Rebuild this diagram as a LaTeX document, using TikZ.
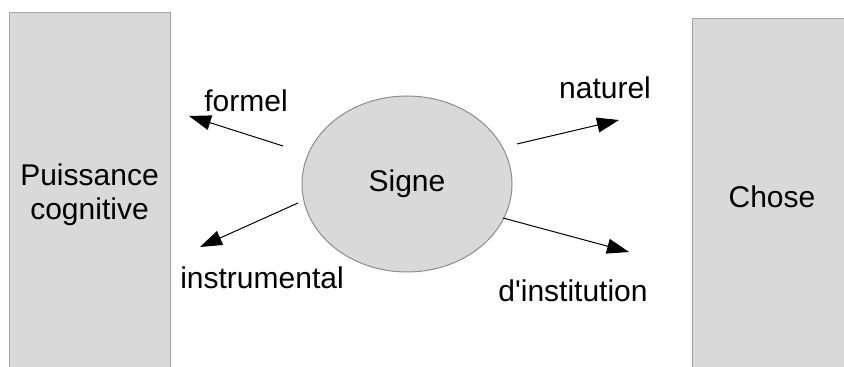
\documentclass[tikz,border=0pt]{standalone}
\usepackage{fontspec}
\setmainfont{Liberation Sans}
\usetikzlibrary{arrows.meta,shapes.geometric}
\tikzset{>={Triangle[length=11pt,width=7.5pt]}}
\tikzset{
    side/.style={rectangle,draw=gray!70,fill=gray!30,line width=0.5pt,align=center,font=\fontsize{15}{17}\selectfont},
    signebox/.style={ellipse,draw=gray!90,fill=gray!30,line width=0.5pt,minimum width=105pt,minimum height=88pt,font=\fontsize{15}{17}\selectfont},
    label/.style={font=\fontsize{15}{17}\selectfont,inner sep=0pt},
    link/.style={->,line width=0.5pt},
}
\begin{document}
\begin{tikzpicture}[x=0.5pt,y=-0.5pt]
        \useasboundingbox (0,0) rectangle (844,367);
        \clip (0,0) rectangle (844,367);
        \node[side,minimum width=80.5pt,minimum height=182pt] (puissance) at (89.5,195) {Puissance\\cognitive};
        \node[side,minimum width=80pt,minimum height=178pt] (chose) at (772,197) {Chose};
        \node[signebox] (signe) at (407,184) {Signe};

        \coordinate (f0) at (283,146);
        \coordinate (f1) at (189,116);
        \coordinate (i0) at (298,203);
        \coordinate (i1) at (200,247);
        \coordinate (n0) at (517,144);
        \coordinate (n1) at (619,120);
        \coordinate (d0) at (503,218);
        \coordinate (d1) at (629,252);

        \node[label] (formel) at (246,101) {formel};
        \node[label] (instrumental) at (262,278) {instrumental};
        \node[label] (naturel) at (605,88) {naturel};
        \node[label] (institution) at (573,291) {d\textquotesingle institution};

        \draw[link] (f0) -- (f1);
        \draw[link] (i0) -- (i1);
        \draw[link] (n0) -- (n1);
        \draw[link] (d0) -- (d1);
\end{tikzpicture}
\end{document}
